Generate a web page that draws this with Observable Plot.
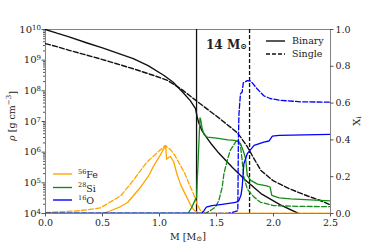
<!DOCTYPE html>
<html><head><meta charset="utf-8">
<script src="https://cdn.jsdelivr.net/npm/d3@7"></script>
<script src="https://cdn.jsdelivr.net/npm/@observablehq/plot@0.6"></script>
<style>
html,body{margin:0;padding:0;background:#fff;}
#chart{position:relative;width:366px;height:244px;}
</style></head><body><div id="chart"></div>
<script>
// ---- density profiles (M in Msun, log10 rho in g cm^-3) ----
const rhoBinaryM   = [0.00,0.10,0.20,0.365,0.50,0.60,0.77,0.90,1.04,1.12,1.20,1.27,1.316,1.33,1.345,1.37,1.40,1.46,1.52,1.64,1.75,1.89,2.06,2.22,2.30];
const rhoBinaryLog = [10.00,9.88,9.77,9.56,9.40,9.27,9.05,8.82,8.50,8.28,7.97,7.68,7.42,7.15,6.95,6.72,6.55,6.24,5.97,5.50,5.10,4.65,4.28,4.00,3.85];
const rhoSingleM   = [0.00,0.10,0.20,0.365,0.50,0.77,0.95,1.07,1.20,1.36,1.52,1.68,1.71,1.77,1.83,1.89,2.00,2.15,2.30,2.40,2.50];
const rhoSingleLog = [9.54,9.44,9.33,9.16,9.02,8.72,8.50,8.34,8.03,7.57,7.12,6.64,6.50,6.18,5.78,5.40,5.06,4.79,4.57,4.44,4.28];

// ---- mass fractions ----
const feBinaryM = [0.50,0.57,0.65,0.72,0.83,0.90,0.95,1.00,1.035,1.055,1.061,1.08,1.096,1.125,1.155,1.19,1.23,1.27,1.30,1.33,1.36,2.50];
const feBinaryX = [0.000,0.015,0.035,0.06,0.14,0.20,0.26,0.31,0.35,0.368,0.295,0.305,0.31,0.28,0.21,0.15,0.10,0.05,0.02,0.005,0.0,0.0];
const feSingleM = [0.00,0.30,0.48,0.66,0.77,0.89,0.98,1.05,1.10,1.14,1.18,1.22,1.26,1.29,1.33,1.36,1.40,1.45,2.50];
const feSingleX = [0.005,0.015,0.03,0.096,0.18,0.28,0.33,0.37,0.345,0.31,0.265,0.22,0.16,0.12,0.05,0.016,0.003,0.0,0.0];

const siBinaryM = [0.00,1.25,1.28,1.31,1.325,1.34,1.355,1.36,1.375,1.39,1.42,1.50,1.60,1.66,1.69,1.71,1.735,1.755,1.77,1.80,1.86,1.94,1.97,1.985,2.05,2.15,2.50];
const siBinaryX = [0.0,0.0,0.03,0.07,0.09,0.30,0.52,0.515,0.46,0.43,0.415,0.41,0.40,0.397,0.39,0.38,0.34,0.30,0.207,0.18,0.16,0.15,0.144,0.098,0.085,0.08,0.068];
const siSingleM = [0.00,1.40,1.447,1.49,1.52,1.55,1.565,1.594,1.62,1.667,1.69,1.71,1.725,1.74,1.77,1.80,1.83,1.886,2.00,2.20,2.50];
const siSingleX = [0.0,0.0,0.016,0.034,0.07,0.143,0.216,0.288,0.342,0.388,0.40,0.37,0.288,0.198,0.134,0.11,0.089,0.061,0.043,0.039,0.037];

const oBinaryM = [0.00,1.37,1.39,1.41,1.46,1.55,1.667,1.696,1.715,1.725,1.74,1.77,1.83,1.915,1.96,1.99,2.05,2.50];
const oBinaryX = [0.0,0.0,0.016,0.034,0.043,0.05,0.06,0.07,0.10,0.143,0.27,0.325,0.37,0.388,0.394,0.42,0.425,0.43];
const oSingleM = [0.00,1.60,1.66,1.687,1.692,1.697,1.71,1.725,1.735,1.77,1.80,1.86,1.915,1.97,2.06,2.24,2.50];
const oSingleX = [0.0,0.0,0.01,0.015,0.40,0.54,0.65,0.66,0.71,0.722,0.72,0.675,0.64,0.625,0.615,0.607,0.605];

// ---- core boundaries (vertical lines) ----
const coreBinary = [1.325];
const coreSingle = [1.79];

// ---- ticks ----
const xTicks = [0.0,0.5,1.0,1.5,2.0,2.5];
const rhoExponents = [4,5,6,7,8,9,10];
const xiTicks = [0.0,0.2,0.4,0.6,0.8,1.0];

const compToY = x => 10 ** (4 + 6 * x);  // right axis (X_i, 0..1) mapped onto the log range
const rows = (ms, vs, f) => ms.map((m, i) => ({m, v: f(vs[i])}));
const logRow = v => 10 ** v;
const xMax = xTicks[xTicks.length - 1];

const minorTicks = [];
for (const e of rhoExponents.slice(0, -1)) for (let k = 2; k <= 9; k++) minorTicks.push(k * 10 ** e);
const xiRows = xiTicks.map(x => ({y: compToY(x), label: x.toFixed(1), m: xMax}));

const FE = "#ffa500", SI = "#168c16", O = "#0000ff";
const dash = "5,2.2";

const plot = Plot.plot({
  width: 366, height: 244,
  marginLeft: 45, marginRight: 36, marginTop: 29, marginBottom: 31,
  style: {fontFamily: "DejaVu Serif", fontSize: "9.5px", background: "#fff", color: "#222", overflow: "visible"},
  x: {domain: [0, xMax], label: null},
  y: {type: "log", domain: [1e4, 1e10], label: null},
  marks: [
    Plot.frame({stroke: "#777", strokeWidth: 0.9}),
    Plot.axisX({ticks: xTicks, tickFormat: d => d.toFixed(1), tickSize: 3.5, tickPadding: 2, label: null, stroke: "#555", fill: "#222"}),
    Plot.axisY({ticks: minorTicks, tickFormat: () => "", tickSize: 2, label: null, stroke: "#555", anchor: "left"}),
    Plot.axisY({ticks: rhoExponents.map(e => 10 ** e), tickFormat: d => "10^" + Math.round(Math.log10(d)), tickSize: 3.5, tickPadding: 1, label: null, stroke: "#555", fill: "#222", anchor: "left", fontSize: 10}),
    // right axis (X_i): short rules + labels through the y scale
    Plot.ruleY(xiRows, {y: "y", x1: "m", x2: "m", insetRight: -3.5, stroke: "#555", strokeWidth: 1}),
    Plot.text(xiRows, {y: "y", text: "label", frameAnchor: "right", dx: 5, textAnchor: "start", fill: "#222"}),
    // density
    Plot.line(rows(rhoSingleM, rhoSingleLog, logRow), {x: "m", y: "v", stroke: "#111", strokeWidth: 1.4, strokeDasharray: dash, clip: true}),
    Plot.line(rows(rhoBinaryM, rhoBinaryLog, logRow), {x: "m", y: "v", stroke: "#111", strokeWidth: 1.4, clip: true}),
    Plot.ruleX(coreBinary, {stroke: "#111", strokeWidth: 1.3}),
    Plot.ruleX(coreSingle, {stroke: "#111", strokeWidth: 1.3, strokeDasharray: "4,2"}),
    // composition
    Plot.line(rows(feSingleM, feSingleX, compToY), {x: "m", y: "v", stroke: FE, strokeWidth: 1.3, strokeDasharray: dash, clip: true}),
    Plot.line(rows(feBinaryM, feBinaryX, compToY), {x: "m", y: "v", stroke: FE, strokeWidth: 1.3, clip: true}),
    Plot.line(rows(siSingleM, siSingleX, compToY), {x: "m", y: "v", stroke: SI, strokeWidth: 1.3, strokeDasharray: dash, clip: true}),
    Plot.line(rows(siBinaryM, siBinaryX, compToY), {x: "m", y: "v", stroke: SI, strokeWidth: 1.3, clip: true}),
    Plot.line(rows(oSingleM, oSingleX, compToY), {x: "m", y: "v", stroke: O, strokeWidth: 1.3, strokeDasharray: dash, clip: true}),
    Plot.line(rows(oBinaryM, oBinaryX, compToY), {x: "m", y: "v", stroke: O, strokeWidth: 1.3, clip: true})
  ]
});
document.getElementById("chart").appendChild(plot);

const svg = d3.select(plot);
// superscript exponents on the log axis
svg.selectAll("text").each(function() {
  const t = this.textContent;
  const m = /^10\^(\d+)$/.exec(t);
  if (m) {
    const s = d3.select(this);
    s.text("");
    s.append("tspan").text("10");
    s.append("tspan").attr("dy", "-0.45em").attr("font-size", "7px").text(m[1]);
  }
});

const g = svg.append("g").attr("font-family", "DejaVu Serif").attr("fill", "#222").attr("text-anchor", "start");
// axis titles
const yl = g.append("text").attr("transform", "translate(12,116) rotate(-90)").attr("text-anchor", "middle").attr("dominant-baseline", "middle").attr("font-size", "9.5px");
yl.append("tspan").attr("font-style", "italic").text("ρ");
yl.append("tspan").text(" [g cm");
yl.append("tspan").attr("dy", "-0.4em").attr("font-size", "7px").text("−3");
yl.append("tspan").attr("dy", "0.4em").text("]");

const xl = g.append("text").attr("x", 188).attr("y", 237).attr("text-anchor", "middle").attr("dominant-baseline", "middle").attr("font-size", "9.5px");
xl.append("tspan").text("M [M");
xl.append("tspan").attr("dy", "0.3em").attr("font-size", "7px").text("⊙");
xl.append("tspan").attr("dy", "-0.3em").text("]");

const rl = g.append("text").attr("transform", "translate(357,121) rotate(-90)").attr("text-anchor", "middle").attr("dominant-baseline", "middle").attr("font-size", "10px");
rl.append("tspan").text("X");
rl.append("tspan").attr("dy", "0.3em").attr("font-size", "7px").text("i");

// annotation
const ann = g.append("text").attr("x", 206).attr("y", 45).attr("text-anchor", "start").attr("dominant-baseline", "middle").attr("font-size", "12px").attr("font-weight", "bold");
ann.append("tspan").text("14 M");
ann.append("tspan").attr("dy", "0.3em").attr("font-size", "8px").text("⊙");

// top-right legend
const legTop = [["Binary", null, 41], ["Single", "4,2", 54]];
for (const [lab, da, y] of legTop) {
  g.append("line").attr("x1", 266).attr("x2", 285).attr("y1", y).attr("y2", y).attr("stroke", "#111").attr("stroke-width", 1.4).attr("stroke-dasharray", da);
  g.append("text").attr("x", 292).attr("y", y).attr("text-anchor", "start").attr("dominant-baseline", "middle").attr("font-size", "9.5px").text(lab);
}
// element legend
const legEl = [["56", "Fe", FE, 174], ["28", "Si", SI, 187.5], ["16", "O", O, 200]];
for (const [iso, el, c, y] of legEl) {
  g.append("line").attr("x1", 53).attr("x2", 72).attr("y1", y).attr("y2", y).attr("stroke", c).attr("stroke-width", 1.4);
  const t = g.append("text").attr("x", 78).attr("y", y).attr("text-anchor", "start").attr("dominant-baseline", "middle").attr("font-size", "9.5px");
  t.append("tspan").attr("dy", "-0.35em").attr("font-size", "6.5px").text(iso);
  t.append("tspan").attr("dy", "0.35em").text(el);
}
</script></body></html>
